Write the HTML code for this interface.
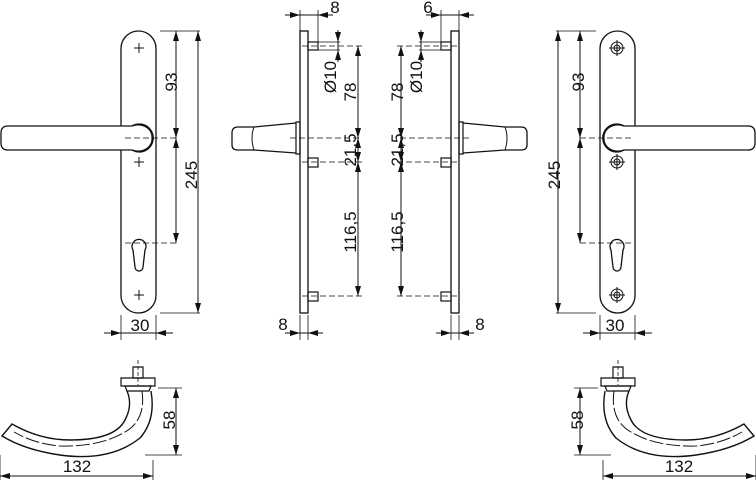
<!DOCTYPE html>
<html><head><style>html,body{margin:0;padding:0;background:#fff}svg{display:block}text{font-family:"Liberation Sans",sans-serif;font-size:17px;fill:#111}</style></head>
<body>
<svg width="756" height="480" viewBox="0 0 756 480" xmlns="http://www.w3.org/2000/svg">
<defs>
<marker id="a" viewBox="0 0 10 6" refX="10" refY="3" markerWidth="10" markerHeight="6" orient="auto-start-reverse" markerUnits="userSpaceOnUse"><path d="M0,0L10,3L0,6z" fill="#111"/></marker>
<g id="front">
 <rect x="121" y="31" width="35" height="282" rx="17.5" fill="none" stroke="#111" stroke-width="1.3"/>
 <path d="M8,126H132a14,14 0 1 1 0,24H8q-7,0 -7,-7v-10q0,-7 7,-7z" fill="#fff" stroke="#111" stroke-width="1.3"/>
 <path d="M132,126a14,12 0 0 1 20,12a14,12 0 0 1 -20,12" fill="none" stroke="#111" stroke-width="1.3"/>
 <path d="M133,250a7,7 0 1 1 12,0l-2,17a3,3 0 0 1 -8,0z" fill="none" stroke="#111" stroke-width="1.3"/>
 <g stroke="#111" stroke-width="1"><path d="M134,48h10M139,43v10M134,162h10M139,157v10M134,295h10M139,290v10"/></g>
 <path d="M125,138H176M125,243H176" stroke="#111" stroke-width="0.8" stroke-dasharray="6,3"/>
 <path d="M160,31H200M160,313H200M121,315V340M156,315V340" stroke="#111" stroke-width="0.8"/>
 <g stroke="#111" stroke-width="1" marker-end="url(#a)" marker-start="url(#a)">
  <line x1="176" y1="31" x2="176" y2="138"/>
  <line x1="176" y1="138" x2="176" y2="243"/>
  <line x1="198" y1="31" x2="198" y2="313"/>
 </g>
 <g stroke="#111" stroke-width="1" marker-end="url(#a)">
  <line x1="104" y1="333" x2="121" y2="333"/>
  <line x1="173" y1="333" x2="156" y2="333"/>
 </g>
 <path d="M121,333H156" stroke="#111" stroke-width="1"/>
</g>
<g id="side">
 <rect x="300" y="31" width="8" height="282" fill="none" stroke="#111" stroke-width="1.3"/>
 <g fill="none" stroke="#111" stroke-width="1.2"><rect x="308" y="42" width="10" height="8"/><rect x="308" y="158" width="10" height="9"/><rect x="308" y="292" width="10" height="9"/></g>
 <path d="M296,122H300V154H296z" fill="none" stroke="#111" stroke-width="1.2"/>
 <path d="M296,123L254,127H238Q232,127 232,133V145Q232,150 238,150H254L296,153" fill="none" stroke="#111" stroke-width="1.3"/>
 <path d="M254,127Q250,138 254,150" fill="none" stroke="#111" stroke-width="1"/>
 <path d="M290,138H362M302,46H362M302,162H362M302,296H362" stroke="#111" stroke-width="0.8" stroke-dasharray="6,3"/>
 <path d="M300,10V31M318,10V42M300,315V340M308,315V340M318,42H340M318,50H340" stroke="#111" stroke-width="0.8"/>
 <g stroke="#111" stroke-width="1" marker-end="url(#a)">
  <line x1="285" y1="15" x2="300" y2="15"/>
  <line x1="333" y1="15" x2="318" y2="15"/>
  <line x1="338" y1="30" x2="338" y2="42"/>
  <line x1="338" y1="62" x2="338" y2="50"/>
  <line x1="285" y1="333" x2="300" y2="333"/>
  <line x1="323" y1="333" x2="308" y2="333"/>
 </g>
 <g stroke="#111" stroke-width="1" marker-end="url(#a)" marker-start="url(#a)">
  <line x1="358" y1="46" x2="358" y2="138"/>
  <line x1="358" y1="138" x2="358" y2="162"/>
  <line x1="358" y1="162" x2="358" y2="296"/>
 </g>
 <path d="M300,15H318M300,333H308M338,42V50" stroke="#111" stroke-width="1"/>
</g>
<g id="hand">
 <path d="M133,367h10v11h-10z" fill="none" stroke="#111" stroke-width="1.2"/>
 <path d="M121,378h34v8h-34z" fill="none" stroke="#111" stroke-width="1.2"/>
 <path d="M125,386h26l-2,5h-22z" fill="none" stroke="#111" stroke-width="1.2"/>
 <path d="M151,391Q156,420 140,438Q110,462 60,455Q25,450 2,436L12,424Q40,440 70,440Q115,440 125,420Q133,405 127,391" fill="none" stroke="#111" stroke-width="1.4"/>
 <path d="M142,391Q146,420 125,432Q100,447 60,446Q35,444 14,432" fill="none" stroke="#111" stroke-width="1" stroke-dasharray="14,3"/>
 <path d="M138,360V385" stroke="#111" stroke-width="0.8" stroke-dasharray="4,2"/>
 <path d="M158,388H182M145,455H182M0,455V480M153,460V480" stroke="#111" stroke-width="0.8"/>
 <g stroke="#111" stroke-width="1" marker-end="url(#a)" marker-start="url(#a)">
  <line x1="176" y1="388" x2="176" y2="455"/>
  <line x1="0" y1="476" x2="153" y2="476"/>
 </g>
</g>
<g id="screw" fill="none" stroke="#111" stroke-width="1"><circle r="6"/><circle r="3"/><path d="M-8,0H8M0,-8V8"/></g>
</defs>
<use href="#front"/>
<use href="#side"/>
<use href="#front" transform="translate(756,0) scale(-1,1)"/>
<use href="#side" transform="translate(759,0) scale(-1,1)"/>
<use href="#hand"/>
<use href="#hand" transform="translate(756,0) scale(-1,1)"/>
<rect x="610" y="40" width="14" height="14" fill="#fff"/><rect x="610" y="154" width="14" height="16" fill="#fff"/><rect x="610" y="287" width="14" height="16" fill="#fff"/>
<use href="#screw" x="617" y="48"/>
<use href="#screw" x="617" y="162"/>
<use href="#screw" x="617" y="295"/>
<text x="140" y="331" text-anchor="middle">30</text>
<text x="615" y="331" text-anchor="middle">30</text>
<text x="283" y="330" text-anchor="middle">8</text>
<text x="480" y="330" text-anchor="middle">8</text>
<text x="335" y="13" text-anchor="middle">8</text>
<text x="428" y="13" text-anchor="middle">6</text>
<text x="77" y="472" text-anchor="middle">132</text>
<text x="679" y="472" text-anchor="middle">132</text>
<g text-anchor="middle">
<text transform="translate(177,82) rotate(-90)">93</text>
<text transform="translate(197,175) rotate(-90)">245</text>
<text transform="translate(584,82) rotate(-90)">93</text>
<text transform="translate(560,175) rotate(-90)">245</text>
<text transform="translate(336,77) rotate(-90)">Ø10</text>
<text transform="translate(422,77) rotate(-90)">Ø10</text>
<text transform="translate(356,92) rotate(-90)">78</text>
<text transform="translate(403,92) rotate(-90)">78</text>
<text transform="translate(356,150) rotate(-90)">21,5</text>
<text transform="translate(403,150) rotate(-90)">21,5</text>
<text transform="translate(356,232) rotate(-90)">116,5</text>
<text transform="translate(403,232) rotate(-90)">116,5</text>
<text transform="translate(175,420) rotate(-90)">58</text>
<text transform="translate(583,420) rotate(-90)">58</text>
</g>
</svg>
</body></html>
